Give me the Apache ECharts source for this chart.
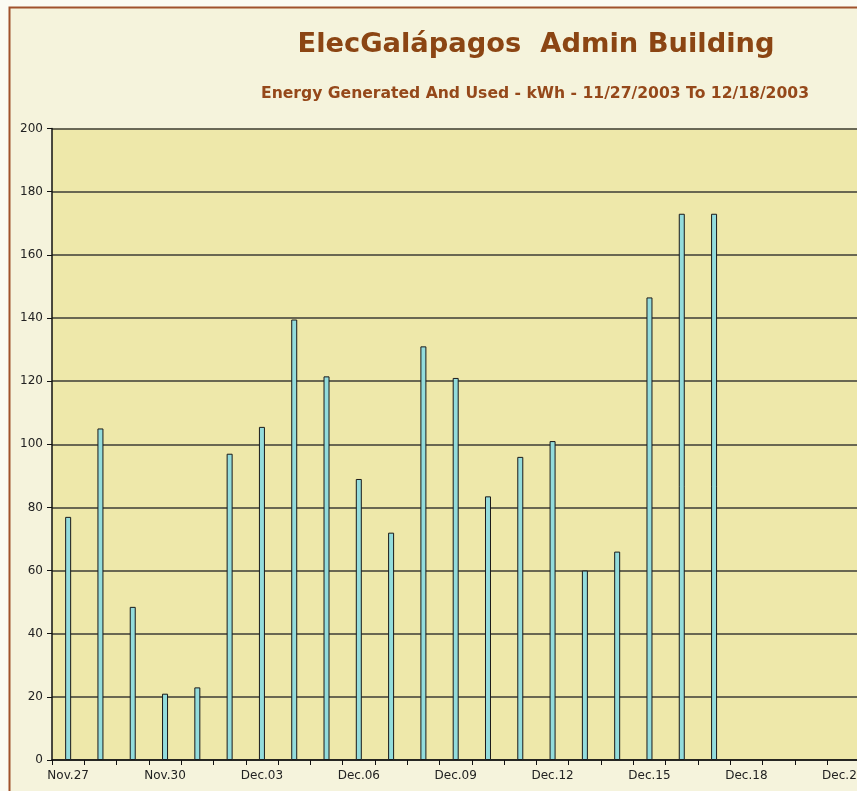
<!DOCTYPE html>
<html>
<head>
<meta charset="utf-8">
<title>ElecGalápagos Admin Building</title>
<script src="https://cdn.jsdelivr.net/npm/echarts@6/dist/echarts.min.js"></script>
<style>
  html, body { margin: 0; padding: 0; background: #fbfbf3; }
  #graph { width: 857px; height: 791px; }
</style>
</head>
<body>
<div id="graph"></div>
<script>
// days shown on the x axis, 11/27 .. 12/21
var days = ['Nov.27', 'Nov.28', 'Nov.29', 'Nov.30', 'Dec.01', 'Dec.02', 'Dec.03', 'Dec.04',
    'Dec.05', 'Dec.06', 'Dec.07', 'Dec.08', 'Dec.09', 'Dec.10', 'Dec.11', 'Dec.12',
    'Dec.13', 'Dec.14', 'Dec.15', 'Dec.16', 'Dec.17', 'Dec.18', 'Dec.19', 'Dec.20', 'Dec.21'];

// kWh per day (nothing recorded after Dec.17)
var kwh = [77, 105, 48.5, 21, 23, 97, 105.5, 139.5, 121.5, 89, 72, 131, 121, 83.5, 96, 101,
    60, 66, 146.5, 173, 173, null, null, null, null];

var yTicks = { min: 0, max: 200, step: 20 };

var mainTitle = 'ElecGalápagos  Admin Building';
var subTitle = 'Energy Generated And Used - kWh - 11/27/2003 To 12/18/2003';

function run () {
    var myChart = echarts.init(document.getElementById('graph'));

    var option = {
        backgroundColor: '#fbfbf3',
        animation: false,
        graphic: [{
            type: 'rect',
            z: -10,
            shape: { x: 9.5, y: 7.5, width: 900, height: 900 },
            style: { fill: '#f5f3dc', stroke: '#a0522d', lineWidth: 2 }
        }],
        title: [{
            text: mainTitle,
            left: 536,
            top: 31,
            padding: 0,
            textAlign: 'center',
            textStyle: { fontFamily: 'DejaVu Sans', fontWeight: 'bold', fontSize: 27.3, color: '#8b4513' }
        }, {
            text: subTitle,
            left: 535,
            top: 86,
            padding: 0,
            textAlign: 'center',
            textStyle: { fontFamily: 'DejaVu Sans', fontWeight: 'bold', fontSize: 15.6, color: '#95481a' }
        }],
        grid: {
            left: 52,
            top: 128.5,
            bottom: 31,
            right: -2.4,
            outerBoundsMode: 'none',
            show: true,
            backgroundColor: '#eee8aa',
            borderWidth: 0
        },
        xAxis: {
            type: 'category',
            data: days,
            boundaryGap: true,
            axisLine: { lineStyle: { color: '#111', width: 1.5 } },
            axisTick: { show: true, interval: 0, length: 5, lineStyle: { color: '#111' } },
            axisLabel: { interval: 2, margin: 10, fontFamily: 'DejaVu Sans', fontSize: 12, color: '#222' },
            splitLine: { show: false }
        },
        yAxis: {
            type: 'value',
            min: yTicks.min,
            max: yTicks.max,
            interval: yTicks.step,
            axisLine: { show: true, lineStyle: { color: '#111', width: 1.5 } },
            axisTick: { show: true, length: 5, lineStyle: { color: '#111' } },
            axisLabel: { margin: 9, fontFamily: 'DejaVu Sans', fontSize: 12, color: '#222' },
            splitLine: { lineStyle: { color: '#3c3c34', width: 1.5 } }
        },
        series: [{
            type: 'bar',
            data: kwh,
            barWidth: 6,
            itemStyle: { color: '#93dcdc', borderColor: '#1a1a1a', borderWidth: 1 }
        }]
    };

    myChart.setOption(option);
}

if (document.readyState !== 'loading') {
    run();
} else {
    document.addEventListener('DOMContentLoaded', run);
}
</script>
</body>
</html>
